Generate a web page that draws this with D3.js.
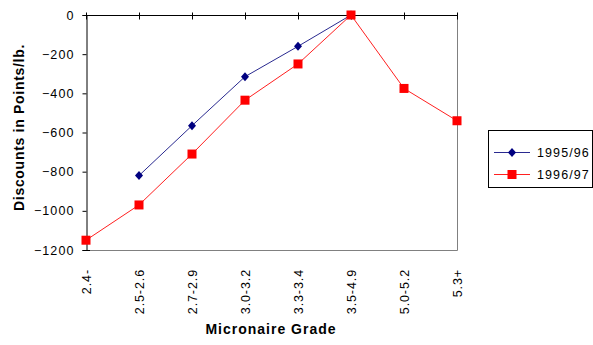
<!DOCTYPE html>
<html><head><meta charset="utf-8">
<script src="https://cdn.jsdelivr.net/npm/d3@7"></script>
<style>body{margin:0;background:#fff}svg{display:block}text{font-family:Arial,"Liberation Sans",sans-serif}</style>
</head><body><svg id="c" width="593" height="345"></svg>
<script>
const categories = ["2.4-","2.5-2.6","2.7-2.9","3.0-3.2","3.3-3.4","3.5-4.9","5.0-5.2","5.3+"];
const s1995 = [null,-820,-565,-315,-160,0,null,null];
const s1996 = [-1150,-970,-710,-435,-250,0,-375,-540];
const yTicks = [0,-200,-400,-600,-800,-1000,-1200];
const seriesNames = ["1995/96","1996/97"];

const svg = d3.select("#c");
const L=86,R=457,T=15,B=250;
const x = d3.scalePoint().domain(categories).range([L,R]);
const y = d3.scaleLinear().domain([-1200,0]).range([B,T]);

svg.append("path").attr("d",`M${R+0.5},${T}V${B+0.5}H${L}`).attr("fill","none").attr("stroke","#808080");

const ya = svg.append("g").attr("transform",`translate(${L+0.5},0)`)
  .call(d3.axisLeft(y).tickValues(yTicks).tickSize(4).tickPadding(8).tickFormat(d3.format("d")));
ya.select(".domain").attr("stroke","#000");
ya.selectAll("line").attr("stroke","#000");
ya.selectAll("text").attr("font-size",12.5).attr("letter-spacing",1.1).attr("fill","#000").attr("font-family","Arial");

const xa = svg.append("g").attr("transform",`translate(0,${y(0)+0.5})`);
xa.append("line").attr("x1",L).attr("x2",R+0.5).attr("stroke","#000");
xa.selectAll("line.t").data(categories).join("line").attr("class","t")
  .attr("x1",d=>x(d)+0.5).attr("x2",d=>x(d)+0.5).attr("y1",-3).attr("y2",4).attr("stroke","#000");
svg.append("line").attr("x1",L-3).attr("x2",L+4).attr("y1",B+0.5).attr("y2",B+0.5).attr("stroke","#000");

svg.append("g").selectAll("text").data(categories).join("text")
  .attr("transform",d=>`translate(${x(d)+4.5},269) rotate(-90)`)
  .attr("text-anchor","end").attr("font-size",12.5).attr("letter-spacing",0.9).attr("fill","#000").text(d=>d);

svg.append("text").attr("x",271).attr("y",334).attr("text-anchor","middle")
  .attr("font-size",14).attr("letter-spacing",1).attr("font-weight","bold").text("Micronaire Grade");
svg.append("text").attr("transform",`translate(24,${(T+B)/2 - 5}) rotate(-90)`).attr("text-anchor","middle")
  .attr("font-size",14).attr("letter-spacing",0.7).attr("font-weight","bold").text("Discounts in Points/lb.");

const line = d3.line().defined(d=>d.v!==null).x(d=>x(d.c)).y(d=>y(d.v));
const d95 = categories.map((c,i)=>({c,v:s1995[i]}));
const d96 = categories.map((c,i)=>({c,v:s1996[i]}));
const diamond = (g,cx,cy)=>g.append("path").attr("d",`M${cx},${cy-4.5}L${cx+4},${cy}L${cx},${cy+4.5}L${cx-4},${cy}Z`).attr("fill","#000080");
const square = (g,cx,cy)=>g.append("rect").attr("x",cx-4.5).attr("y",cy-4.5).attr("width",9).attr("height",9).attr("fill","#ff0000");

svg.append("path").datum(d95).attr("d",line).attr("fill","none").attr("stroke","#2a2a90").attr("stroke-width",1);
svg.append("path").datum(d96).attr("d",line).attr("fill","none").attr("stroke","#ff2020").attr("stroke-width",1);
const mg = svg.append("g");
d95.filter(d=>d.v!==null).forEach(d=>diamond(mg,x(d.c),y(d.v)));
d96.filter(d=>d.v!==null).forEach(d=>square(mg,x(d.c),y(d.v)));

const lg = svg.append("g");
lg.append("rect").attr("x",488.5).attr("y",130.5).attr("width",104).attr("height",57).attr("fill","#fff").attr("stroke","#000");
[0,1].forEach(i=>{
  const ly = 152 + i*22;
  lg.append("line").attr("x1",494).attr("x2",530).attr("y1",ly+0.5).attr("y2",ly+0.5).attr("stroke",i?"#ff2020":"#2a2a90");
  if(i) square(lg,512,ly+0.5); else diamond(lg,512,ly+0.5);
  lg.append("text").attr("x",537).attr("y",ly+5).attr("font-size",12.5).attr("letter-spacing",1.1).text(seriesNames[i]);
});
</script></body></html>
